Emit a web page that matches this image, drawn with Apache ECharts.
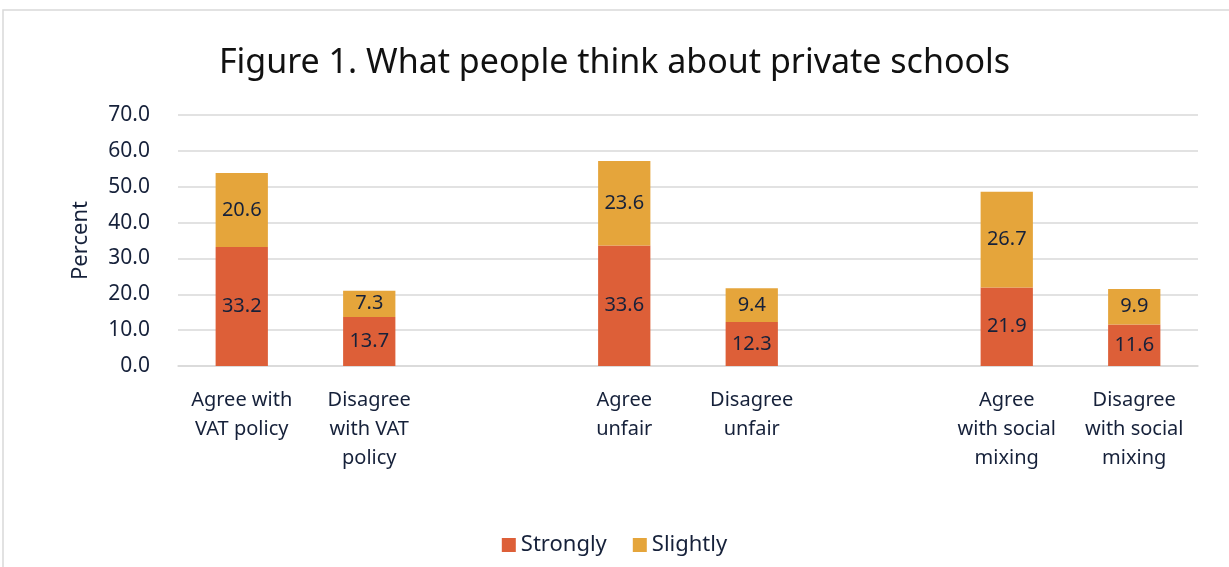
<!DOCTYPE html>
<html><head><meta charset="utf-8">
<script src="https://cdn.jsdelivr.net/npm/echarts@6/dist/echarts.min.js"></script>
<style>html,body{margin:0;padding:0;background:#fff}#c{width:1229px;height:567px}</style>
</head><body><div id="c"></div>
<script>
const categories = ['Agree with\nVAT policy', 'Disagree\nwith VAT\npolicy', '', 'Agree\nunfair', 'Disagree\nunfair', '', 'Agree\nwith social\nmixing', 'Disagree\nwith social\nmixing'];
const strongly = [33.2, 13.7, '-', 33.6, 12.3, '-', 21.9, 11.6];
const slightly = [20.6, 7.3, '-', 23.6, 9.4, '-', 26.7, 9.9];
const txt = '#16213a';
const font = '"Noto Sans", sans-serif';
const chart = echarts.init(document.getElementById('c'));
const lbl = {show: true, position: 'inside', color: txt, fontSize: 20, fontFamily: font, formatter: p => p.value.toFixed(1)};
chart.setOption({
  animation: false,
  graphic: [{type: 'rect', shape: {x: 3, y: 10, width: 1240, height: 600}, style: {fill: 'none', stroke: '#d9d9d9', lineWidth: 1.5}}],
  title: {text: 'Figure 1. What people think about private schools', left: 'center', top: 41,
    textStyle: {fontSize: 34, fontWeight: 'normal', color: '#111', fontFamily: font}},
  legend: {bottom: 6, left: 'center', itemWidth: 14, itemHeight: 14, itemGap: 26, icon: 'rect',
    textStyle: {fontSize: 22, color: txt, fontFamily: font}},
  grid: {left: 178, right: 31, top: 115, bottom: 201},
  xAxis: {type: 'category', data: categories, axisTick: {show: false},
    axisLine: {lineStyle: {color: '#d9d9d9', width: 1.5}},
    axisLabel: {interval: 0, color: txt, fontSize: 20, lineHeight: 29, margin: 20, fontFamily: font}},
  yAxis: {type: 'value', min: 0, max: 70, interval: 10, name: 'Percent', nameLocation: 'middle', nameGap: 86,
    nameTextStyle: {fontSize: 22, color: txt, fontFamily: font},
    axisLabel: {formatter: v => v.toFixed(1), color: txt, fontSize: 21, margin: 28, fontFamily: font},
    splitLine: {lineStyle: {color: '#d9d9d9', width: 1.5}}},
  series: [
    {name: 'Strongly', type: 'bar', stack: 's', data: strongly, barWidth: '41%', itemStyle: {color: '#DD5F38'}, label: lbl},
    {name: 'Slightly', type: 'bar', stack: 's', data: slightly, barWidth: '41%', itemStyle: {color: '#E5A53B'}, label: lbl}
  ]
});
</script></body></html>
